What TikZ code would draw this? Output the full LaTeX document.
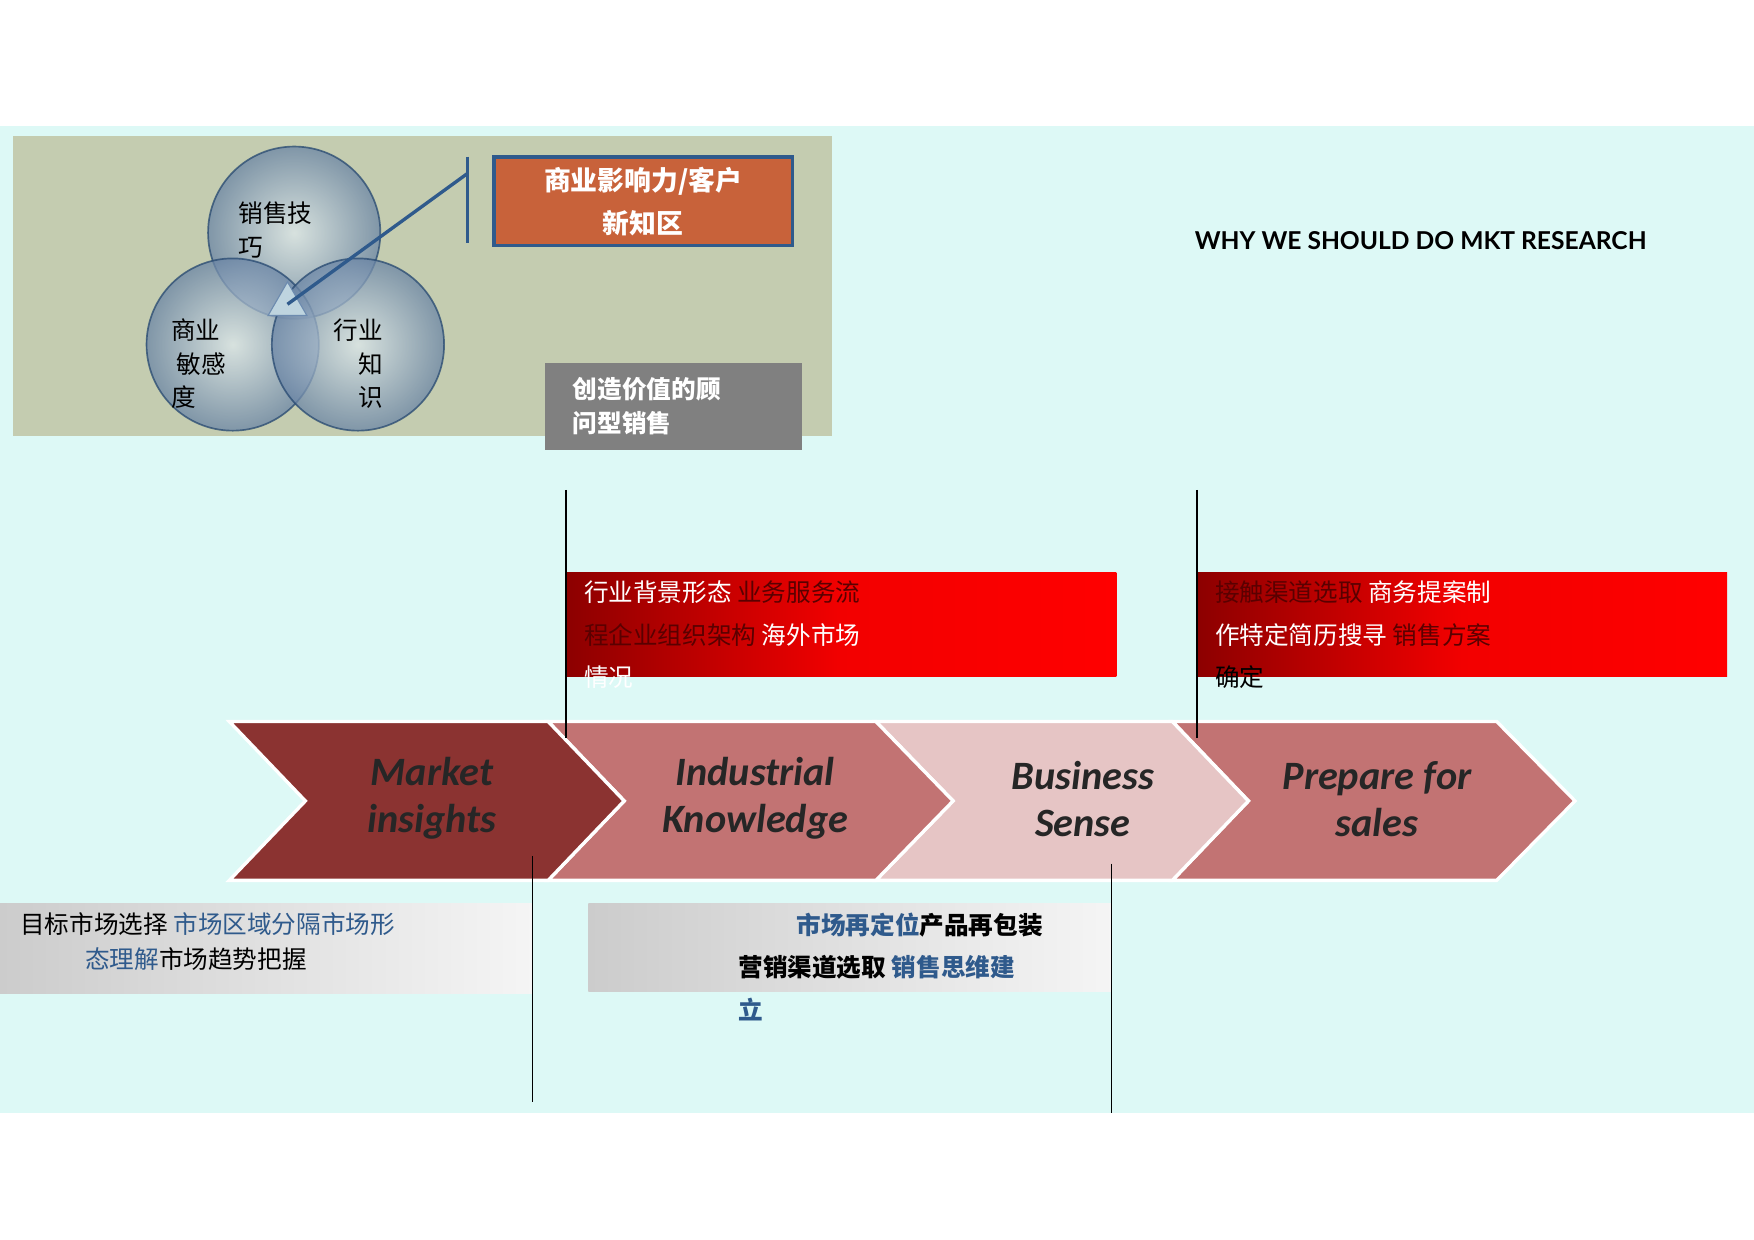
\documentclass[tikz,border=0pt]{standalone}
\usepackage{fontspec}
\setmainfont{Carlito}
\newfontfamily\cjk{Noto Sans CJK SC}
\newfontfamily\lat{Lato}
\usetikzlibrary{shadings,shapes.geometric}
\definecolor{bgc}{HTML}{DDF9F6}
\definecolor{panel}{HTML}{C4CCB0}
\definecolor{dred}{HTML}{8B3331}
\definecolor{rose}{HTML}{C27373}
\definecolor{pink}{HTML}{E6C5C5}
\definecolor{txr}{HTML}{5A0000}
\definecolor{blu}{HTML}{2F5A8C}
\definecolor{circ}{HTML}{93B8C9}
\definecolor{orng}{HTML}{C8623A}
\begin{document}
\begin{tikzpicture}[x=1pt,y=-1pt,
 chev/.style={draw=white,line width=3pt,line join=miter},
 clab/.style={font=\bfseries\itshape\fontsize{36}{42}\selectfont,align=center,text=black!85},
 ctx/.style={font=\cjk\fontsize{22}{38}\selectfont,anchor=north west,inner sep=0pt},
 vline/.style={draw=black,line width=1pt},
 ball/.style={draw=blu!80!black,line width=1.5pt,inner color=circ!30,outer color=circ!90!blue!80!black,opacity=0.75}]
\useasboundingbox (0,0) rectangle (1568,1108.5);
\fill[bgc] (0,113) rectangle (1568,995);
\fill[panel] (12,122) rectangle (744,390);
% circles
\shade[ball] (263,208) circle (77);
\shade[ball] (208,308) circle (77);
\shade[ball] (320,308) circle (77);
\node[font=\cjk\fontsize{22}{30}\selectfont,anchor=north west,inner sep=0pt] (c1) at (213,180) {销售技};
\node[font=\cjk\fontsize{22}{30}\selectfont,anchor=north west,inner sep=0pt] (c1b) at (213,212) {巧};
\node[font=\cjk\fontsize{22}{30}\selectfont,align=left,anchor=north west,inner sep=0pt] (c2) at (153,285) {商业\\\ 敏感\\度};
\node[font=\cjk\fontsize{22}{30}\selectfont,align=right,anchor=north west,inner sep=0pt] (c3) at (298,285) {行业\\知\\识};
\node[draw=blu!70,fill=circ!60,line width=1pt,regular polygon,regular polygon sides=3,minimum size=40pt,inner sep=0pt] (tri) at (257,272) {};
\coordinate (lk) at (418,155);
\draw[blu,line width=3pt] (tri.center) -- (lk);
\draw[blu,line width=3pt] (418,140) -- (418,217);
\node[draw=blu,line width=3pt,fill=orng,minimum width=267pt,minimum height=79pt,anchor=north west,font=\cjk\bfseries\fontsize{24}{38}\selectfont,text=white,align=center] (ob) at (440,139) {商业影响力/客户\\新知区};
\node[fill=black!50,minimum width=230pt,minimum height=78pt,anchor=north west,font=\cjk\bfseries\fontsize{22}{31}\selectfont,text=white,align=left,text width=180pt] (gb) at (487,324) {创造价值的顾\\问型销售};
\node[font=\lat\bfseries\fontsize{22}{26}\selectfont,inner sep=0pt] (title) at (1270,215) {WHY WE SHOULD DO MKT RESEARCH};
% red boxes
\shade[left color=red!55!black,right color=red,middle color=red!95!black] (506,512) rectangle (998,605);
\shade[left color=red!55!black,right color=red,middle color=red!95!black] (1070,512) rectangle (1544,605);
\node[ctx] (r1) at (522,519) {\textcolor{white}{行业背景形态} \textcolor{txr}{业务服务流}};
\node[ctx] (r2) at (522,557) {\textcolor{txr}{程企业组织架构} \textcolor{white}{海外市场}};
\node[ctx] (r3) at (522,595) {\textcolor{white}{情况}};
\node[ctx] (s1) at (1086,519) {\textcolor{txr}{接触渠道选取} \textcolor{white}{商务提案制}};
\node[ctx] (s2) at (1086,557) {\textcolor{white}{作特定简历搜寻} \textcolor{txr}{销售方案}};
\node[ctx] (s3) at (1086,595) {确定};
% chevrons
\fill[chev,fill=rose] (1048,645)--(1338,645)--(1408,716)--(1338,787)--(1048,787)--(1116,716)--cycle;
\fill[chev,fill=pink] (783,645)--(1048,645)--(1116,716)--(1048,787)--(783,787)--(852,716)--cycle;
\fill[chev,fill=rose] (490,645)--(783,645)--(852,716)--(783,787)--(490,787)--(558,716)--cycle;
\fill[chev,fill=dred] (205,645)--(490,645)--(558,716)--(490,787)--(205,787)--(273,716)--cycle;
\node[clab] (m1) at (386,714) {Market\\insights};
\node[clab] (m2) at (675,714) {Industrial\\Knowledge};
\node[clab] (m3) at (968,714) {Business\\Sense};
\node[clab] (m4) at (1231,714) {Prepare for\\sales};
% bottom boxes
\shade[left color=black!20,right color=black!4] (0,808) rectangle (476,888);
\shade[left color=black!20,right color=black!4] (526,808) rectangle (994,886);
\node[ctx] (b1) at (18,816) {目标市场选择 \textcolor{blu}{市场区域分隔市场形}};
\node[ctx] (b2) at (76,847) {\textcolor{blu}{态理解}市场趋势把握};
\node[ctx,font=\cjk\bfseries\fontsize{22}{38}\selectfont] (d1) at (712,816) {\textcolor{blu}{市场再定位}产品再包装};
\node[ctx,font=\cjk\bfseries\fontsize{22}{38}\selectfont] (d2) at (660,854) {营销渠道选取 \textcolor{blu}{销售思维建}};
\node[ctx,font=\cjk\bfseries\fontsize{22}{38}\selectfont] (d3) at (660,892) {\textcolor{blu}{立}};
% vertical lines
\coordinate (v1a) at (506,438); \coordinate (v1b) at (506,660);
\coordinate (v2a) at (1070,438); \coordinate (v2b) at (1070,660);
\coordinate (v3a) at (476,765); \coordinate (v3b) at (476,985);
\coordinate (v4a) at (994,772); \coordinate (v4b) at (994,995);
\draw[vline] (v1a)--(v1b); \draw[vline] (v2a)--(v2b);
\draw[vline] (v3a)--(v3b); \draw[vline] (v4a)--(v4b);
\end{tikzpicture}
\end{document}
